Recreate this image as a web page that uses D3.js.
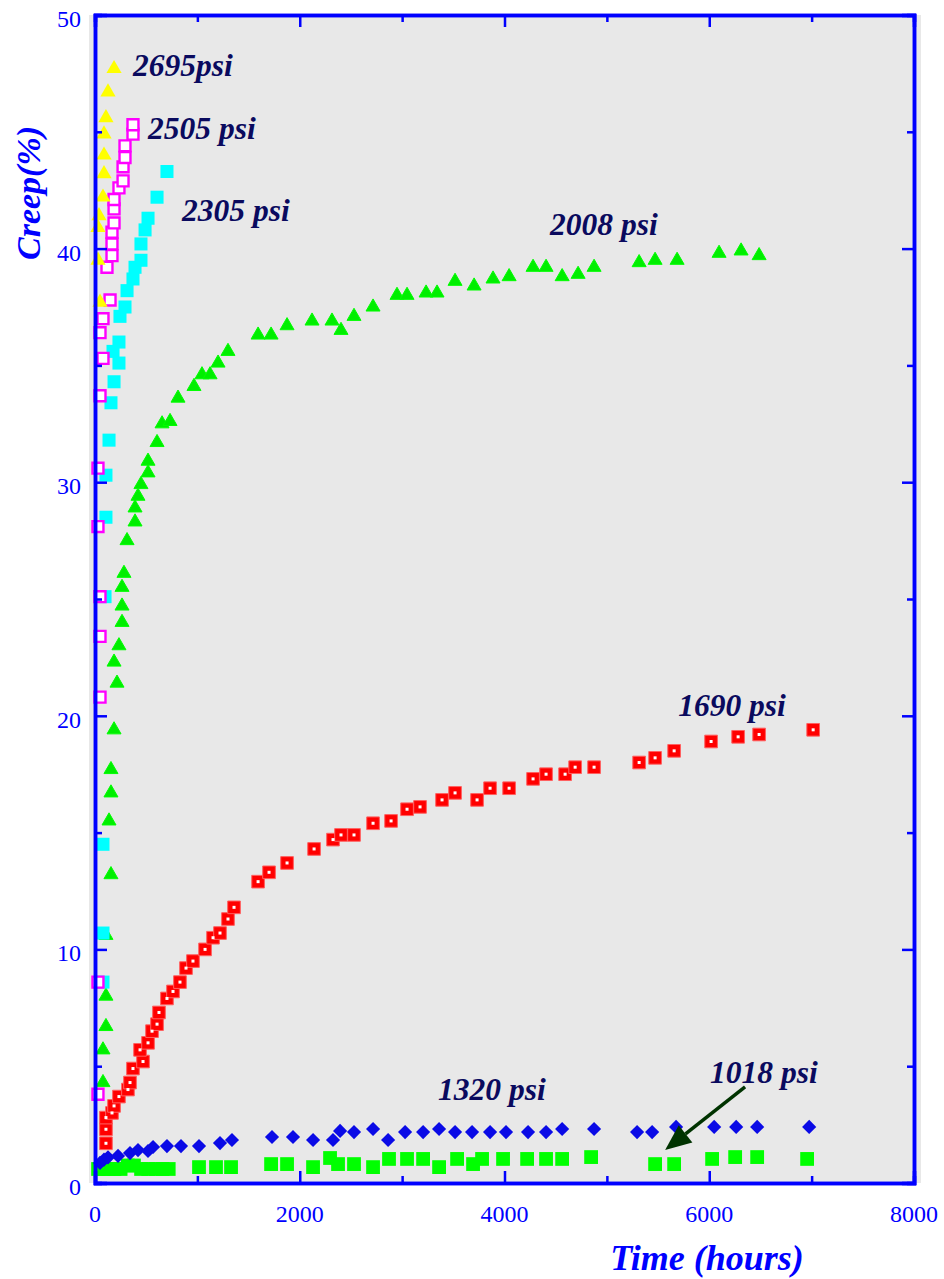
<!DOCTYPE html>
<html>
<head>
<meta charset="utf-8">
<script src="https://cdn.jsdelivr.net/npm/d3@7"></script>
<style>
  body { margin: 0; background: #fff; }
  svg { display: block; font-family: "Liberation Serif", "Times New Roman", serif; }
</style>
</head>
<body>
<svg width="944" height="1279"></svg>
<script>
// creep test data, time in hours, creep in %
const s2695_t = [29, 29, 39, 49, 78, 88, 88, 88, 107, 127, 186];
const s2695_c = [39.5, 40.9, 41.4, 37.7, 42.2, 43.2, 44.0, 44.9, 45.6, 46.7, 47.7];

const s2505_t = [29, 29, 49, 49, 49, 29, 29, 49, 78, 49, 78, 147, 117, 166, 166, 166, 186, 186, 186, 234, 274, 274, 293, 293, 371, 371];
const s2505_c = [3.8, 8.6, 20.8, 23.4, 25.1, 28.1, 30.6, 33.7, 35.3, 36.4, 37.0, 37.8, 39.2, 39.7, 40.2, 40.7, 41.1, 41.7, 42.1, 42.6, 42.9, 43.5, 43.9, 44.4, 44.9, 45.3];

const s2305_t = [78, 78, 78, 98, 107, 107, 137, 156, 186, 176, 234, 234, 244, 293, 313, 371, 391, 449, 449, 489, 518, 606, 703];
const s2305_c = [8.6, 10.7, 14.5, 25.1, 28.5, 30.3, 31.8, 33.4, 34.3, 35.6, 35.1, 36.0, 37.1, 37.5, 38.2, 38.7, 39.2, 39.5, 40.2, 40.8, 41.3, 42.2, 43.3];

const s2008_t = [78, 78, 107, 107, 107, 156, 137, 156, 156, 186, 215, 186, 234, 264, 264, 264, 283, 313, 391, 391, 420, 449, 518, 518, 606, 655, 733, 811, 967, 1045, 1124, 1202, 1299, 1593, 1720, 1876, 2120, 2315, 2403, 2530, 2716, 2950, 3048, 3234, 3341, 3517, 3703, 3888, 4045, 4279, 4406, 4563, 4719, 4875, 5315, 5471, 5686, 6096, 6311, 6487];
const s2008_c = [4.3, 5.7, 6.7, 8.0, 10.6, 13.2, 15.5, 16.7, 17.7, 19.4, 21.4, 22.3, 23.0, 24.0, 24.7, 25.5, 26.1, 27.5, 28.3, 28.9, 29.4, 29.9, 30.4, 30.9, 31.7, 32.5, 32.6, 33.6, 34.1, 34.6, 34.6, 35.1, 35.6, 36.3, 36.3, 36.7, 36.9, 36.9, 36.5, 37.1, 37.5, 38.0, 38.0, 38.1, 38.1, 38.6, 38.4, 38.7, 38.8, 39.2, 39.2, 38.8, 38.9, 39.2, 39.4, 39.5, 39.5, 39.8, 39.9, 39.7];

const s1690_t = [107, 107, 107, 166, 186, 234, 322, 342, 371, 469, 440, 518, 557, 606, 625, 703, 762, 830, 889, 957, 1075, 1153, 1221, 1299, 1358, 1593, 1700, 1876, 2140, 2325, 2403, 2530, 2716, 2892, 3048, 3175, 3390, 3517, 3732, 3859, 4045, 4279, 4406, 4592, 4690, 4875, 5315, 5471, 5657, 6018, 6282, 6487, 7015];
const s1690_c = [1.7, 2.3, 2.8, 3.0, 3.3, 3.7, 4.0, 4.3, 4.9, 5.2, 5.7, 6.0, 6.5, 6.8, 7.3, 7.9, 8.2, 8.6, 9.2, 9.5, 10.0, 10.5, 10.7, 11.3, 11.8, 12.9, 13.3, 13.7, 14.3, 14.7, 14.9, 14.9, 15.4, 15.5, 16.0, 16.1, 16.4, 16.7, 16.4, 16.9, 16.9, 17.3, 17.5, 17.5, 17.8, 17.8, 18.0, 18.2, 18.5, 18.9, 19.1, 19.2, 19.4];

const s1320_t = [49, 88, 127, 225, 342, 420, 518, 567, 703, 840, 1016, 1221, 1338, 1729, 1934, 2130, 2325, 2394, 2530, 2716, 2863, 3029, 3205, 3361, 3517, 3683, 3859, 4015, 4230, 4406, 4563, 4875, 5295, 5442, 5676, 6048, 6263, 6468, 6976];
const s1320_c = [0.86, 1.0, 1.1, 1.16, 1.28, 1.41, 1.37, 1.54, 1.58, 1.58, 1.58, 1.71, 1.84, 1.97, 1.97, 1.84, 1.84, 2.23, 2.18, 2.31, 1.84, 2.18, 2.18, 2.31, 2.18, 2.18, 2.18, 2.18, 2.18, 2.18, 2.31, 2.31, 2.18, 2.18, 2.40, 2.40, 2.40, 2.40, 2.40];

const s1018_t = [30, 80, 130, 190, 250, 320, 380, 450, 520, 590, 660, 720, 1016, 1182, 1329, 1720, 1876, 2130, 2296, 2374, 2530, 2716, 2872, 3048, 3205, 3361, 3537, 3693, 3781, 3986, 4221, 4406, 4563, 4846, 5471, 5657, 6028, 6253, 6468, 6956];
const s1018_c = [0.6, 0.6, 0.6, 0.6, 0.6, 0.75, 0.75, 0.6, 0.6, 0.6, 0.6, 0.6, 0.68, 0.68, 0.68, 0.81, 0.81, 0.68, 1.07, 0.81, 0.81, 0.68, 1.03, 1.03, 1.03, 0.68, 1.03, 0.81, 1.03, 1.03, 1.03, 1.03, 1.03, 1.11, 0.81, 0.81, 1.03, 1.11, 1.11, 1.03];

const xTicks = [0, 2000, 4000, 6000, 8000];
const yTicks = [0, 10, 20, 30, 40, 50];

// annotation labels: [text, time, creep at baseline]
const labels = [
  ["2695psi", 371, 47.4],
  ["2505 psi", 518, 44.7],
  ["2305 psi", 850, 41.2],
  ["2008 psi", 4445, 40.6],
  ["1690 psi", 5696, 20.0],
  ["1320 psi", 3351, 3.55],
  ["1018 psi", 6008, 4.28]
];
const arrowFrom = [6350, 4.11];
const arrowTo = [5569, 1.41];

const svg = d3.select('svg');
const x = d3.scaleLinear().domain([0, 8000]).range([95, 914]);
const y = d3.scaleLinear().domain([0, 50]).range([1183, 15]);

const BLUE = '#0000ff';
const NAVY = '#0a0a5e';

// grey plot background
svg.append('rect')
  .attr('x', x(0) - 6).attr('y', y(50))
  .attr('width', x(8000) - x(0) + 13).attr('height', y(0) - y(50))
  .attr('fill', '#e8e8e8');

const zip = (t, c) => t.map((d, i) => [d, c[i]]);

function plot(data, type, size, fill, stroke, sw, rotate) {
  svg.append('g').selectAll('path')
    .data(data)
    .enter()
    .append('path')
    .attr('d', d3.symbol().type(type).size(size))
    .attr('transform', d => `translate(${x(d[0])},${y(d[1])})` + (rotate ? ` rotate(${rotate})` : ''))
    .attr('fill', fill)
    .attr('stroke', stroke || 'none')
    .attr('stroke-width', sw || 0);
}

plot(zip(s1018_t, s1018_c), d3.symbolSquare, 190, '#00ff00');
plot(zip(s1320_t, s1320_c), d3.symbolSquare, 100, '#0a0ae6', null, 0, 45);
plot(zip(s1690_t, s1690_c), d3.symbolSquare, 160, '#ff0000', '#ff6060', 1);
svg.append('g').selectAll('rect')
  .data(zip(s1690_t, s1690_c))
  .enter()
  .append('rect')
  .attr('x', d => x(d[0]) - 1.5).attr('y', d => y(d[1]) - 1.5)
  .attr('width', 3).attr('height', 3)
  .attr('fill', '#fff');
plot(zip(s2008_t, s2008_c), d3.symbolTriangle, 85, '#00ee00', '#00ff00', 1);
plot(zip(s2305_t, s2305_c), d3.symbolSquare, 170, '#00ffff');
plot(zip(s2505_t, s2505_c), d3.symbolSquare, 120, '#ffffff', '#ff00ff', 2.4);
plot(zip(s2695_t, s2695_c), d3.symbolTriangle, 100, '#ffff00');

// axes: major ticks, minor ticks, on all four sides
function axes(gen, scale, trans, vals, len) {
  svg.append('g')
    .attr('transform', trans)
    .call(gen(scale).tickValues(vals).tickSize(len).tickFormat(''))
    .call(g => g.selectAll('line').attr('stroke', BLUE).attr('stroke-width', 2.5))
    .call(g => g.select('.domain').attr('stroke', BLUE).attr('stroke-width', 3.5));
}
const xMinor = d3.range(1000, 8000, 2000);
const yMinor = d3.range(5, 50, 10);
axes(d3.axisTop, x, `translate(0,${y(0)})`, xTicks, 12);
axes(d3.axisTop, x, `translate(0,${y(0)})`, xMinor, 7);
axes(d3.axisBottom, x, `translate(0,${y(50)})`, xTicks, 12);
axes(d3.axisBottom, x, `translate(0,${y(50)})`, xMinor, 7);
axes(d3.axisRight, y, `translate(${x(0)},0)`, yTicks, 12);
axes(d3.axisRight, y, `translate(${x(0)},0)`, yMinor, 7);
axes(d3.axisLeft, y, `translate(${x(8000)},0)`, yTicks, 12);
axes(d3.axisLeft, y, `translate(${x(8000)},0)`, yMinor, 7);

// tick labels
svg.append('g').selectAll('text')
  .data(xTicks)
  .enter()
  .append('text')
  .attr('x', d => x(d)).attr('y', y(0) + 39)
  .attr('text-anchor', 'middle')
  .attr('font-size', 24).attr('fill', BLUE)
  .text(d => d);
svg.append('g').selectAll('text')
  .data(yTicks)
  .enter()
  .append('text')
  .attr('x', x(0) - 14).attr('y', d => y(d) + 12)
  .attr('text-anchor', 'end')
  .attr('font-size', 24).attr('fill', BLUE)
  .text(d => d);

// axis titles
svg.append('text')
  .attr('transform', 'translate(40,193) rotate(-90)')
  .attr('text-anchor', 'middle')
  .attr('font-size', 34).attr('font-weight', 'bold').attr('font-style', 'italic')
  .attr('fill', BLUE)
  .text('Creep(%)');
svg.append('text')
  .attr('x', 707).attr('y', 1270)
  .attr('text-anchor', 'middle')
  .attr('font-size', 36).attr('font-weight', 'bold').attr('font-style', 'italic')
  .attr('fill', BLUE)
  .text('Time (hours)');

// series labels
svg.append('g').selectAll('text')
  .data(labels)
  .enter()
  .append('text')
  .attr('x', d => x(d[1])).attr('y', d => y(d[2]))
  .attr('font-size', 31.5).attr('font-weight', 'bold').attr('font-style', 'italic')
  .attr('fill', NAVY)
  .text(d => d[0]);

// arrow to the 1018 psi series
const ax1 = x(arrowFrom[0]), ay1 = y(arrowFrom[1]);
const ax2 = x(arrowTo[0]), ay2 = y(arrowTo[1]);
const ang = Math.atan2(ay2 - ay1, ax2 - ax1);
const headLen = 26, headW = 11;
const bx = ax2 - headLen * Math.cos(ang), by = ay2 - headLen * Math.sin(ang);
svg.append('line')
  .attr('x1', ax1).attr('y1', ay1).attr('x2', bx).attr('y2', by)
  .attr('stroke', '#003300').attr('stroke-width', 3.5);
svg.append('path')
  .attr('d', d3.line()([
    [ax2, ay2],
    [bx + headW * Math.sin(ang), by - headW * Math.cos(ang)],
    [bx - headW * Math.sin(ang), by + headW * Math.cos(ang)]
  ]) + 'Z')
  .attr('fill', '#003300');
</script>
</body>
</html>
